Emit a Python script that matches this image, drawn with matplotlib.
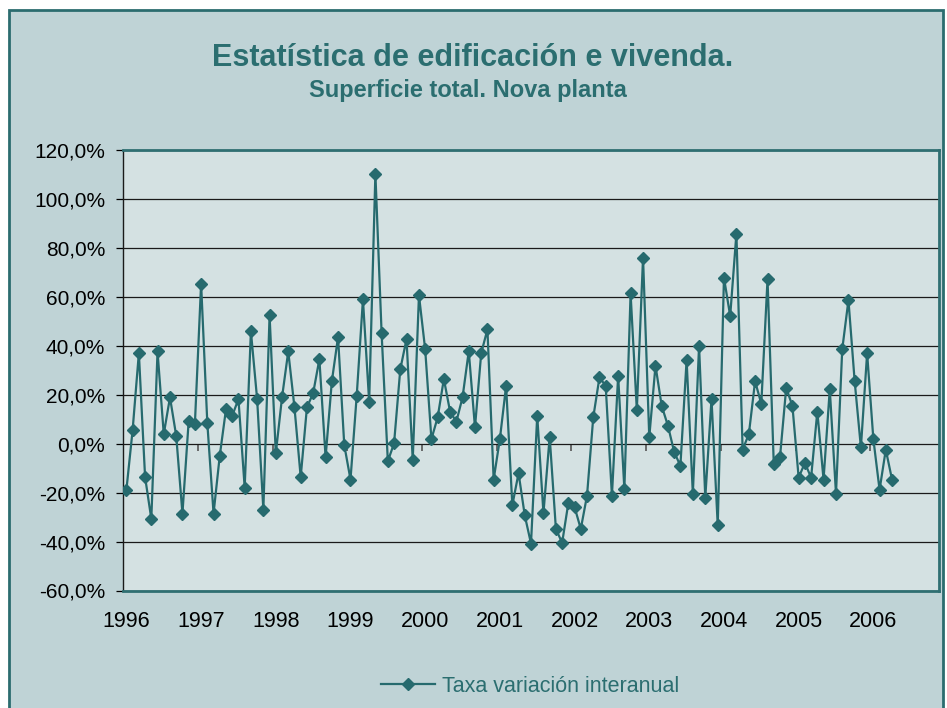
import matplotlib
matplotlib.use("Agg")
import matplotlib.pyplot as plt
from matplotlib.patches import Rectangle
from matplotlib.ticker import FuncFormatter

# monthly year-on-year change (%), Jan 1996 .. Apr 2006
rate_1996 = [-18.8, 5.7, 37.1, -13.6, -30.7, 37.8, 4.0, 19.0, 3.3, -28.5, 9.2, 8.1]
rate_1997 = [65.5, 8.4, -28.5, -4.8, 14.2, 11.5, 18.3, -17.9, 46.0, 18.3, -26.9, 52.6]
rate_1998 = [-3.9, 19.0, 37.8, 14.9, -13.6, 14.9, 20.7, 34.6, -5.5, 25.5, 43.7, -0.5]
rate_1999 = [-14.6, 19.7, 59.1, 17.2, 110.5, 45.2, -7.1, 0.2, 30.5, 42.8, -6.5, 60.8]
rate_2000 = [38.6, 1.9, 10.8, 26.5, 13.2, 9.0, 19.0, 37.9, 6.7, 37.1, 46.8, -14.6]
rate_2001 = [2.0, 23.7, -25.1, -12.0, -29.3, -40.8, 11.5, -28.4, 2.9, -34.8, -40.5, -24.2]
rate_2002 = [-25.9, -34.8, -21.2, 10.8, 27.2, 23.7, -21.2, 27.8, -18.5, 61.5, 13.9, 76.2]
rate_2003 = [2.7, 32.0, 15.5, 7.4, -3.3, -9.0, 34.3, -20.4, 40.0, -22.0, 18.3, -33.4]
rate_2004 = [68.0, 52.3, 86.0, -2.4, 4.0, 25.6, 16.4, 67.3, -8.1, -5.5, 22.9, 15.5]
rate_2005 = [-13.8, -7.8, -13.8, 13.2, -14.6, 22.3, -20.4, 38.6, 58.8, 25.6, -1.5, 37.1]
rate_2006 = [2.0, -18.8, -2.4, -14.6]

years = ["1996", "1997", "1998", "1999", "2000", "2001", "2002", "2003", "2004", "2005", "2006"]

rates = (rate_1996 + rate_1997 + rate_1998 + rate_1999 + rate_2000 + rate_2001
         + rate_2002 + rate_2003 + rate_2004 + rate_2005 + rate_2006)
months = list(range(len(rates)))

teal = "#266A6E"
text_teal = "#2B6E70"
plt.rcParams["font.family"] = ["Liberation Sans", "DejaVu Sans"]

fig = plt.figure(figsize=(9.47, 7.08), dpi=100)
fig.patch.set_facecolor("white")

# chart area background with border
bg = Rectangle((8.5 / 947, -0.02), (943 - 8.5) / 947, (708 - 9.5) / 708 + 0.02,
               transform=fig.transFigure, facecolor="#BFD3D6", edgecolor="#2B6C6F",
               linewidth=2, zorder=-1)
fig.add_artist(bg)

ax = fig.add_axes([123.3 / 947, 117.5 / 708, (938.7 - 123.3) / 947, (590.5 - 150.5) / 708])
ax.set_facecolor("#D4E1E2")

ax.plot(months, rates, color=teal, linewidth=1.6, marker="D", markersize=6.5,
        markerfacecolor=teal, markeredgecolor=teal, label="Taxa variación interanual",
        zorder=3)

ax.set_xlim(-0.5, 130.5)
ax.set_ylim(-60, 120)
ax.set_yticks(range(-60, 121, 20))
ax.yaxis.set_major_formatter(FuncFormatter(lambda v, p: f"{v:.1f}%".replace(".", ",")))
ax.yaxis.grid(True, color="#1a1a1a", linewidth=0.9)
ax.set_axisbelow(True)

ax.set_xticks(range(0, 121, 12))
ax.set_xticklabels(years)
ax.tick_params(axis="x", length=0, pad=15, labelsize=15.5)
ax.tick_params(axis="y", direction="out", length=5, width=0.9, pad=8, labelsize=15)

for side in ["top", "right", "bottom"]:
    ax.spines[side].set_color("#2F6F72")
    ax.spines[side].set_linewidth(2)
ax.spines["left"].set_color("#1a1a1a")
ax.spines["left"].set_linewidth(1)

# category axis crossing at 0% with year boundary ticks
sec = ax.secondary_xaxis(1 / 3)
sec.set_xticks([11.5 + 12 * i for i in range(10)])
sec.set_xticklabels([])
sec.tick_params(axis="x", direction="out", length=5, width=1.2, color="#555555")
sec.spines["bottom"].set_visible(False)
sec.spines["top"].set_visible(False)

fig.text(473 / 947, 1 - 58 / 708, "Estatística de edificación e vivenda.",
         ha="center", va="center", fontsize=22, fontweight="bold", color=text_teal)
fig.text(468 / 947, 1 - 91 / 708, "Superficie total. Nova planta",
         ha="center", va="center", fontsize=17, fontweight="bold", color=text_teal)

ax.legend(loc="center", bbox_to_anchor=(530 / 947, 1 - 686 / 708),
          bbox_transform=fig.transFigure, frameon=False, fontsize=15.5,
          labelcolor=text_teal, handlelength=2.5, handletextpad=0.35)

fig.savefig("out.png", dpi=100, facecolor=fig.get_facecolor())
